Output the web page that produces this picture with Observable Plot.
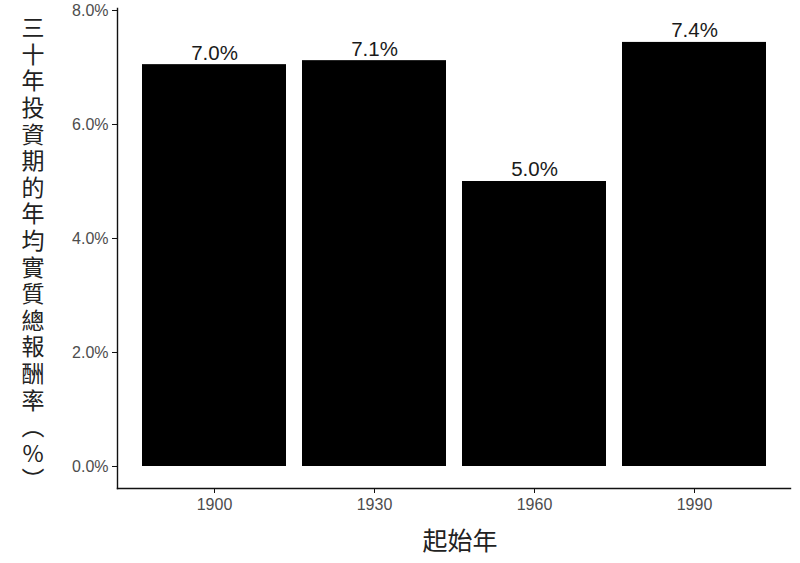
<!DOCTYPE html>
<html><head><meta charset="utf-8">
<script src="https://cdn.jsdelivr.net/npm/d3@7"></script>
<script src="https://cdn.jsdelivr.net/npm/@observablehq/plot@0.6"></script>
<style>
body{margin:0;background:#fff;}
#wrap{position:relative;width:800px;height:563px;}
#ylab{position:absolute;left:21px;top:16px;writing-mode:vertical-rl;text-orientation:mixed;font-family:"Noto Sans CJK TC";font-size:23px;letter-spacing:3.6px;color:#222;line-height:1;}
#ylab span{text-orientation:upright;}
#xlab{position:absolute;left:117px;width:686px;top:524px;text-align:center;font-family:"Noto Sans CJK TC";font-size:25px;color:#222;line-height:1.2;}
</style></head>
<body>
<div id="wrap">
<div id="chart"></div>
<div id="ylab">三十年投資期的年均實質總報酬率（<span>%</span>）</div>
<div id="xlab">起始年</div>
</div>
<script>
const years = ["1900", "1930", "1960", "1990"];
const returns = [7.05, 7.12, 5.0, 7.44];
const labels = ["7.0%", "7.1%", "5.0%", "7.4%"];
const yTicks = [0, 2, 4, 6, 8];

const data = years.map((y, i) => ({year: y, value: returns[i], label: labels[i]}));

const chart = Plot.plot({
  width: 800, height: 563,
  marginLeft: 117, marginRight: 10, marginTop: 8, marginBottom: 75,
  style: {fontFamily: "Liberation Sans, Arial, sans-serif", background: "white"},
  x: {domain: years, paddingInner: 0.1, paddingOuter: 0.15, label: null},
  y: {domain: [-0.386, 8.035], label: null},
  marks: [
    Plot.barY(data, {x: "year", y: "value", fill: "black"}),
    Plot.text(data, {x: "year", y: "value", text: "label", dy: -5, lineAnchor: "bottom", fontSize: 20.5, fill: "#1a1a1a"}),
    Plot.axisY({ticks: yTicks, tickFormat: d => d.toFixed(1) + "%", tickSize: 5, tickPadding: 4, fontSize: 16, fill: "#4d4d4d", stroke: "#111", label: null}),
    Plot.axisX({tickSize: 5, tickPadding: 5, fontSize: 16, fill: "#4d4d4d", stroke: "#111", label: null}),
    Plot.frame({anchor: "left", stroke: "#111", strokeWidth: 1.4}),
    Plot.frame({anchor: "bottom", stroke: "#111", strokeWidth: 1.4})
  ]
});
document.getElementById("chart").appendChild(chart);
</script>
</body></html>
